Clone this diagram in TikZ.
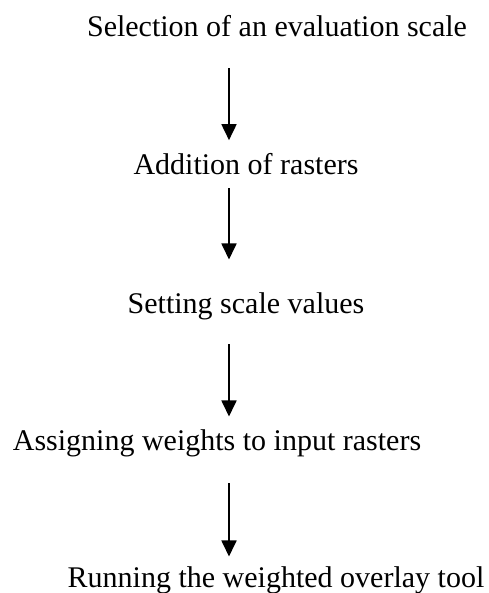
\documentclass[tikz,border=0pt]{standalone}
\usepackage{fontspec}
\setmainfont{Liberation Serif}
\usetikzlibrary{arrows.meta}

\tikzset{
	stage/.style={inner sep=0pt, anchor=base, font=\fontsize{30pt}{36pt}\selectfont},
	flow/.style={line width=1.8pt, -{Triangle[width=15pt,length=16pt]}}
}

\begin{document}
\begin{tikzpicture}[x=1pt, y=-1pt]
		\useasboundingbox (0,0) rectangle (488,593);
		\coordinate(axis) at (229,0);

		\node[stage](sel) at (277,37) {Selection of an evaluation scale};
		\node[stage](add) at (246,175) {Addition of rasters};
		\node[stage](set) at (246,313) {Setting scale values};
		\node[stage](wgt) at (217,450) {Assigning weights to input rasters};
		\node[stage](run) at (276,587) {Running the weighted overlay tool};

		\draw [flow,shorten <=31pt,shorten >=13.5pt](sel.south -| axis) -- (add.north -| axis);
		\draw [flow,shorten <=13pt,shorten >=32.5pt](add.south -| axis) -- (set.north -| axis);
		\draw [flow,shorten <=24.5pt,shorten >=12.5pt](set.south -| axis) -- (wgt.north -| axis);
		\draw [flow,shorten <=26.5pt,shorten >=9.5pt](wgt.south -| axis) -- (run.north -| axis);
	\end{tikzpicture}
\end{document}
